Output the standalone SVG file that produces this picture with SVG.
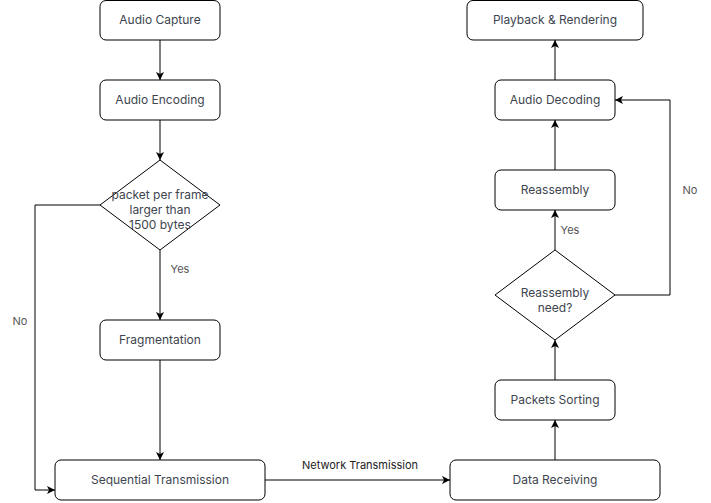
<svg xmlns="http://www.w3.org/2000/svg" width="711" height="503" viewBox="0 0 711 503">
<style>
.n rect{fill:#fff;stroke:#000;stroke-width:1}
.n polygon{fill:#fff;stroke:#000;stroke-width:1}
.t{font-family:Inter,"Liberation Sans",sans-serif;font-size:12px;fill:#40454f;text-anchor:middle}
.e path{fill:none;stroke:#000;stroke-width:1}
.l{font-family:Inter,"Liberation Sans",sans-serif;font-size:11px;fill:#555;text-anchor:middle}
.l2{font-family:Inter,"Liberation Sans",sans-serif;font-size:11px;fill:#222;text-anchor:middle}
</style>
<defs>
<marker id="a" markerWidth="10" markerHeight="10" refX="8" refY="4" orient="auto" markerUnits="userSpaceOnUse" viewBox="0 0 10 8">
<path d="M0,0 L8,4 L0,8 L2,4 z" fill="#000"/>
</marker>
</defs>
<rect width="711" height="503" fill="#fff"/>
<g class="e" id="connectors">
<path d="M160,40 V80" marker-end="url(#a)"/>
<path d="M160,120 V160" marker-end="url(#a)"/>
<path d="M160,250 V320" marker-end="url(#a)"/>
<path d="M100,205 H35 V490 H55" marker-end="url(#a)"/>
<path d="M160,360 V460" marker-end="url(#a)"/>
<path d="M265,480 H450" marker-end="url(#a)"/>
<path d="M555,460 V420" marker-end="url(#a)"/>
<path d="M555,380 V340" marker-end="url(#a)"/>
<path d="M555,250 V210" marker-end="url(#a)"/>
<path d="M615,295 H670 V100 H615" marker-end="url(#a)"/>
<path d="M555,170 V120" marker-end="url(#a)"/>
<path d="M555,80 V40" marker-end="url(#a)"/>
<text class="l" x="180" y="273">Yes</text>
<text class="l" x="20" y="325">No</text>
<text class="l2" x="360" y="469">Network Transmission</text>
<text class="l" x="570" y="234">Yes</text>
<text class="l" x="690" y="194">No</text>
</g>
<g class="n" id="audio-capture"><rect x="100" y="0.5" width="120" height="39.5" rx="6"/><text class="t" x="160" y="24">Audio Capture</text></g>
<g class="n" id="audio-encoding"><rect x="100" y="80" width="120" height="40" rx="6"/><text class="t" x="160" y="104">Audio Encoding</text></g>
<g class="n" id="decision-size"><polygon points="160,160 220,205 160,250 100,205"/><text class="t" x="160" y="199">packet per frame</text><text class="t" x="160" y="214">larger than</text><text class="t" x="160" y="229">1500 bytes</text></g>
<g class="n" id="fragmentation"><rect x="100" y="320" width="120" height="40" rx="6"/><text class="t" x="160" y="344">Fragmentation</text></g>
<g class="n" id="sequential-transmission"><rect x="55" y="460" width="210" height="40" rx="6"/><text class="t" x="160" y="484">Sequential Transmission</text></g>
<g class="n" id="data-receiving"><rect x="450" y="460" width="210" height="40" rx="6"/><text class="t" x="555" y="484">Data Receiving</text></g>
<g class="n" id="packets-sorting"><rect x="495" y="380" width="120" height="40" rx="6"/><text class="t" x="555" y="404">Packets Sorting</text></g>
<g class="n" id="decision-reassembly"><polygon points="555,250 615,295 555,340 495,295"/><text class="t" x="555" y="297">Reassembly</text><text class="t" x="555" y="312">need?</text></g>
<g class="n" id="reassembly"><rect x="495" y="170" width="120" height="40" rx="6"/><text class="t" x="555" y="194">Reassembly</text></g>
<g class="n" id="audio-decoding"><rect x="495" y="80" width="120" height="40" rx="6"/><text class="t" x="555" y="104">Audio Decoding</text></g>
<g class="n" id="playback"><rect x="467" y="0.5" width="176" height="39.5" rx="6"/><text class="t" x="555" y="24">Playback &amp; Rendering</text></g>
</svg>
